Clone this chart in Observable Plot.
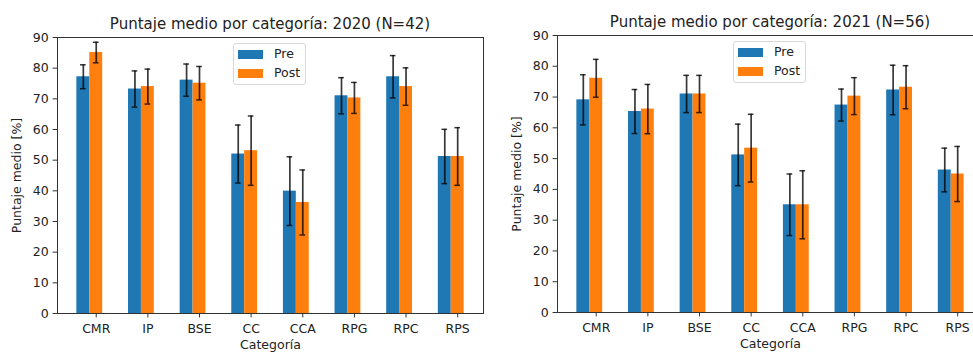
<!DOCTYPE html>
<html>
<head>
<meta charset="utf-8">
<script src="https://cdn.jsdelivr.net/npm/d3@7"></script>
<script src="https://cdn.jsdelivr.net/npm/@observablehq/plot@0.6"></script>
<style>
  body { margin: 0; background: #fff; }
  #wrap { position: relative; width: 973px; height: 352px; overflow: hidden; font-family: "DejaVu Sans", sans-serif; color: #222; }
  .panel { position: absolute; top: 0; }
  .title { position: absolute; font-size: 15px; line-height: 18px; text-align: center; white-space: nowrap; color: #222; }
  .legend { position: absolute; border: 1px solid #d8d8d8; border-radius: 3px; background: rgba(255,255,255,0.8); box-sizing: border-box; }
  .legend .row { position: absolute; left: 4px; display: flex; align-items: center; font-size: 12.5px; line-height: 14px; color: #222; }
  .legend .sw { width: 25px; height: 9px; margin-right: 11px; }
</style>
</head>
<body>
<div id="wrap"></div>
<script>
const categories = ["CMR", "IP", "BSE", "CC", "CCA", "RPG", "RPC", "RPS"];
const seriesNames = ["Pre", "Post"];
const seriesColors = ["#1f77b4", "#ff7f0e"];
const yTicks = [0, 10, 20, 30, 40, 50, 60, 70, 80, 90];

const pre2020 = [77.2, 73.2, 76.1, 52.0, 39.9, 71.0, 77.2, 51.2];
const pre2020Err = [3.9, 5.9, 5.25, 9.45, 11.2, 5.9, 6.9, 8.85];
const post2020 = [85.1, 74.0, 75.1, 53.1, 36.2, 70.3, 74.0, 51.2];
const post2020Err = [3.35, 5.7, 5.45, 11.3, 10.6, 5.05, 6.1, 9.4];

const pre2021 = [69.1, 65.3, 71.0, 51.2, 35.0, 67.4, 72.3, 46.3];
const pre2021Err = [8.15, 7.15, 6.05, 10.0, 10.0, 5.2, 8.05, 7.1];
const post2021 = [76.1, 66.1, 71.0, 53.4, 35.0, 70.3, 73.2, 45.0];
const post2021Err = [6.15, 8.0, 6.05, 11.0, 11.05, 6.0, 7.0, 8.95];

const titles = ["Puntaje medio por categoría: 2020 (N=42)", "Puntaje medio por categoría: 2021 (N=56)"];

function rows(pre, preErr, post, postErr) {
  const out = [];
  categories.forEach((c, i) => {
    out.push({i, cat: c, s: 0, v: pre[i], e: preErr[i]});
    out.push({i, cat: c, s: 1, v: post[i], e: postErr[i]});
  });
  return out;
}

// bar layout (in category units): Pre bar left of tick, Post bar centered on tick
const BW = 0.25;
const x1 = d => d.i - BW * 1.5 + d.s * BW;
const x2 = d => x1(d) + BW;
const xc = d => x1(d) + BW / 2;
const cap = 0.055;

function makeChart(data, cfg) {
  return Plot.plot({
    width: cfg.width,
    height: 352,
    marginLeft: cfg.ml,
    marginRight: cfg.mr,
    marginTop: cfg.mt,
    marginBottom: cfg.mb,
    style: {fontFamily: "DejaVu Sans, sans-serif", fontSize: "12.5px", color: "#222", background: "transparent", overflow: "visible"},
    x: {domain: [-0.75, 7.5]},
    y: {domain: [0, 90]},
    marks: [
      Plot.rectY(data, {x1, x2, y1: 0, y2: "v", fill: d => seriesColors[d.s]}),
      Plot.ruleX(data, {x: xc, y1: d => d.v - d.e, y2: d => d.v + d.e, stroke: "#000", strokeWidth: 1.7, strokeOpacity: 0.78}),
      Plot.ruleY(data, {y: d => d.v + d.e, x1: d => xc(d) - cap, x2: d => xc(d) + cap, stroke: "#000", strokeWidth: 1.5, strokeOpacity: 0.78}),
      Plot.ruleY(data, {y: d => d.v - d.e, x1: d => xc(d) - cap, x2: d => xc(d) + cap, stroke: "#000", strokeWidth: 1.5, strokeOpacity: 0.78}),
      Plot.frame({stroke: "#333", strokeWidth: 1}),
      Plot.axisY({ticks: yTicks, tickSize: 4.4, tickPadding: 4.5, stroke: "#333", label: "Puntaje medio [%]", labelAnchor: "center", labelArrow: "none", labelOffset: cfg.ylo}),
      Plot.axisX({ticks: d3.range(categories.length), tickFormat: i => categories[i], tickSize: 4.4, tickPadding: 6, stroke: "#333", label: "Categoría", labelAnchor: "center", labelArrow: "none", labelOffset: cfg.xlo})
    ]
  });
}

const wrap = document.getElementById("wrap");
const panels = [
  {left: 0, width: 490, ml: 57, mr: 7, mt: 37, mb: 39, ylo: 45, xlo: 35, data: rows(pre2020, pre2020Err, post2020, post2020Err), titleTop: 15},
  {left: 490, width: 500, ml: 67, mr: 7, mt: 35, mb: 40, ylo: 45, xlo: 35, data: rows(pre2021, pre2021Err, post2021, post2021Err), titleTop: 13}
];

panels.forEach((p, k) => {
  const div = document.createElement("div");
  div.className = "panel";
  div.style.left = p.left + "px";
  div.style.width = p.width + "px";
  div.style.height = "352px";
  div.appendChild(makeChart(p.data, p));
  const t = document.createElement("div");
  t.className = "title";
  t.textContent = titles[k];
  const fw = p.width - p.ml - p.mr;
  t.style.left = p.ml + "px";
  t.style.width = fw + "px";
  t.style.top = p.titleTop + "px";
  div.appendChild(t);
  const lg = document.createElement("div");
  lg.className = "legend";
  lg.style.left = (p.ml + 176) + "px";
  lg.style.top = (p.mt + 6) + "px";
  lg.style.width = "73px";
  lg.style.height = "42px";
  seriesNames.forEach((n, j) => {
    const r = document.createElement("div");
    r.className = "row";
    r.style.top = (3 + j * 19) + "px";
    const sw = document.createElement("span");
    sw.className = "sw";
    sw.style.background = seriesColors[j];
    const tx = document.createElement("span");
    tx.textContent = n;
    r.appendChild(sw);
    r.appendChild(tx);
    lg.appendChild(r);
  });
  div.appendChild(lg);
  wrap.appendChild(div);
});
</script>
</body>
</html>
